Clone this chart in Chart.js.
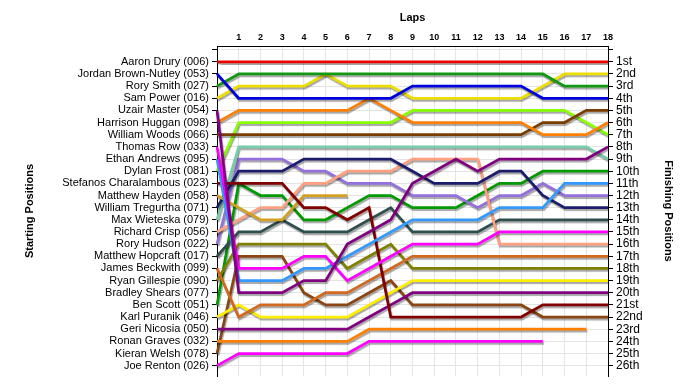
<!DOCTYPE html>
<html>
<head>
<meta charset="utf-8">
<script src="https://cdn.jsdelivr.net/npm/chart.js@4.4.1/dist/chart.umd.min.js"></script>
<style>
  body { margin: 0; background: #fff; }
</style>
</head>
<body>
<canvas id="chart" width="700" height="390"></canvas>
<script>
// lap 0 = grid position
const laps = ['0', '1', '2', '3', '4', '5', '6', '7', '8', '9', '10', '11', '12', '13', '14', '15', '16', '17', '18'];

const starters = [
  'Aaron Drury (006)', 'Jordan Brown-Nutley (053)', 'Rory Smith (027)', 'Sam Power (016)',
  'Uzair Master (054)', 'Harrison Huggan (098)', 'William Woods (066)', 'Thomas Row (033)',
  'Ethan Andrews (095)', 'Dylan Frost (081)', 'Stefanos Charalambous (023)', 'Matthew Hayden (058)',
  'William Tregurtha (071)', 'Max Wieteska (079)', 'Richard Crisp (056)', 'Rory Hudson (022)',
  'Matthew Hopcraft (017)', 'James Beckwith (099)', 'Ryan Gillespie (090)', 'Bradley Shears (077)',
  'Ben Scott (051)', 'Karl Puranik (046)', 'Geri Nicosia (050)', 'Ronan Graves (032)',
  'Kieran Welsh (078)', 'Joe Renton (026)'
];

const finishLabels = ['1st', '2nd', '3rd', '4th', '5th', '6th', '7th', '8th', '9th', '10th', '11th', '12th', '13th',
  '14th', '15th', '16th', '17th', '18th', '19th', '20th', '21st', '22nd', '23rd', '24th', '25th', '26th'];

const colors = [
  '#ee0000', '#0000dd', '#119911', '#eedd00', '#800080', '#ff8000', '#7a3d00', '#ff00ff',
  '#3399ff', '#88ff00', '#800000', '#d4a020', '#1c1c6c', '#77ccaa', '#ffa080', '#9370db',
  '#2f4f4f', '#d2691e', '#808000', '#999999', '#009900', '#ffee00', '#800080', '#ff8000',
  '#8b4513', '#ff00ff'
];

// positions per lap, one array per driver (grid order)
const drury        = [1, 1, 1, 1, 1, 1, 1, 1, 1, 1, 1, 1, 1, 1, 1, 1, 1, 1, 1];
const brownNutley  = [2, 4, 4, 4, 4, 4, 4, 4, 4, 3, 3, 3, 3, 3, 3, 4, 4, 4, 4];
const smith        = [3, 2, 2, 2, 2, 2, 2, 2, 2, 2, 2, 2, 2, 2, 2, 2, 3, 3, 3];
const power        = [4, 3, 3, 3, 3, 2, 3, 3, 3, 4, 4, 4, 4, 4, 4, 3, 2, 2, 2];
const master       = [5, 20, 20, 20, 19, 19, 16, 15, 14, 11, 10, 9, 10, 9, 9, 9, 9, 9, 8];
const huggan       = [6, 5, 5, 5, 5, 5, 5, 4, 5, 6, 6, 6, 6, 6, 6, 7, 7, 7, 6];
const woods        = [7, 7, 7, 7, 7, 7, 7, 7, 7, 7, 7, 7, 7, 7, 7, 6, 6, 5, 5];
const row          = [8, 18, 18, 18, 17, 17, 19, 18, 17, 16, 16, 16, 16, 15, 15, 15, 15, 15, 15];
const andrews      = [9, 19, 19, 19, 18, 18, 17, 16, 15, 14, 14, 14, 14, 13, 13, 13, 11, 11, 11];
const frost        = [10, 6, 6, 6, 6, 6, 6, 6, 6, 5, 5, 5, 5, 5, 5, 5, 5, 6, 7];
const charalambous = [11, 11, 11, 11, 13, 13, 14, 13, 22, 22, 22, 22, 22, 22, 22, 21, 21, 21, 21];
const hayden       = [12, 13, 14, 14, 12, 12, 12];
const tregurtha    = [13, 10, 10, 10, 9, 9, 9, 9, 9, 10, 11, 11, 11, 10, 10, 12, 13, 13, 13];
const wieteska     = [14, 8, 8, 8, 8, 8, 8, 8, 8, 8, 8, 8, 8, 8, 8, 8, 8, 8, 9];
const crisp        = [15, 14, 13, 13, 11, 11, 10, 10, 10, 9, 9, 9, 9, 16, 16, 16, 16, 16, 16];
const hudson       = [16, 9, 9, 9, 10, 10, 11, 11, 11, 12, 12, 12, 13, 12, 12, 11, 12, 12, 12];
const hopcraft     = [17, 15, 15, 14, 15, 15, 15, 14, 13, 15, 15, 15, 15, 14, 14, 14, 14, 14, 14];
const beckwith     = [18, 22, 21, 21, 21, 20, 20, 19, 18, 17, 17, 17, 17, 17, 17, 17, 17, 17, 17];
const gillespie    = [19, 16, 16, 16, 16, 16, 18, 17, 16, 18, 18, 18, 18, 18, 18, 18, 18, 18, 18];
const shears       = [];
const scott        = [21, 11, 12, 12, 14, 14, 13, 12, 12, 13, 13, 13, 12, 11, 11, 10, 10, 10, 10];
const puranik      = [22, 21, 22, 22, 22, 22, 22, 21, 20, 19, 19, 19, 19, 19, 19, 19, 19, 19, 19];
const nicosia      = [23, 23, 23, 23, 23, 23, 23, 22, 21, 20, 20, 20, 20, 20, 20, 20, 20, 20, 20];
const graves       = [24, 24, 24, 24, 24, 24, 24, 23, 23, 23, 23, 23, 23, 23, 23, 23, 23, 23];
const welsh        = [25, 17, 17, 17, 20, 21, 21, 20, 19, 21, 21, 21, 21, 21, 21, 22, 22, 22, 22];
const renton       = [26, 25, 25, 25, 25, 25, 25, 24, 24, 24, 24, 24, 24, 24, 24, 24];

const positions = [drury, brownNutley, smith, power, master, huggan, woods, row, andrews, frost,
  charalambous, hayden, tregurtha, wieteska, crisp, hudson, hopcraft, beckwith, gillespie, shears,
  scott, puranik, nicosia, graves, welsh, renton];

const datasets = starters.map((name, i) => ({
  label: name,
  data: positions[i],
  borderColor: colors[i],
  borderWidth: 2.75,
  pointRadius: 0,
  tension: 0,
  fill: false,
  yAxisID: 'y'
}));

// grey drop shadow under the lines
const lineShadow = {
  id: 'lineShadow',
  beforeDatasetsDraw(chart) {
    const ctx = chart.ctx;
    ctx.save();
    ctx.shadowColor = 'rgba(0,0,0,0.35)';
    ctx.shadowOffsetX = 1;
    ctx.shadowOffsetY = 2;
    ctx.shadowBlur = 1;
  },
  afterDatasetsDraw(chart) {
    chart.ctx.restore();
  }
};

const allTicks = (scale) => {
  scale.ticks = [0, 1, 2, 3, 4, 5, 6, 7, 8, 9, 10, 11, 12, 13, 14, 15, 16, 17, 18, 19, 20, 21, 22, 23, 24, 25, 26]
    .map(v => ({ value: v }));
};

const titleFont = { family: 'Liberation Sans', size: 11, weight: 'bold' };

new Chart(document.getElementById('chart'), {
  type: 'line',
  data: { labels: laps, datasets: datasets },
  plugins: [lineShadow],
  options: {
    responsive: false,
    animation: false,
    devicePixelRatio: 1,
    layout: { padding: { bottom: 14 } },
    plugins: { legend: { display: false }, tooltip: { enabled: false } },
    scales: {
      x: {
        position: 'top',
        offset: false,
        afterFit: (s) => { s.height = 46; },
        title: { display: true, text: 'Laps', color: '#000', font: titleFont, padding: { top: 11 } },
        grid: { color: '#e4e4e4', drawTicks: false },
        border: { color: '#000' },
        ticks: {
          color: '#000',
          font: { family: 'Liberation Sans', size: 9, weight: 'bold' },
          padding: 3,
          maxRotation: 0,
          autoSkip: false,
          callback: (v, i) => (i === 0 ? '' : laps[i])
        }
      },
      y: {
        position: 'left',
        reverse: true,
        min: -0.3,
        max: 26.85,
        afterBuildTicks: allTicks,
        afterFit: (s) => { s.width = 217; },
        title: { display: true, text: 'Starting Positions', color: '#000', font: titleFont, padding: { top: 23 } },
        grid: { color: '#e4e4e4', tickColor: '#000', tickLength: 5 },
        border: { color: '#000' },
        ticks: {
          color: '#000',
          font: { family: 'Liberation Sans', size: 11 },
          padding: 3,
          autoSkip: false,
          callback: (v) => starters[v - 1] || ''
        }
      },
      y2: {
        position: 'right',
        reverse: true,
        min: -0.3,
        max: 26.85,
        afterBuildTicks: allTicks,
        afterFit: (s) => { s.width = 92; },
        title: { display: true, text: 'Finishing Positions', color: '#000', font: titleFont, padding: { top: 25 } },
        grid: { drawOnChartArea: false, color: '#000', tickLength: 5 },
        border: { color: '#000' },
        ticks: {
          color: '#000',
          font: { family: 'Liberation Sans', size: 12 },
          padding: 3,
          autoSkip: false,
          callback: (v) => finishLabels[v - 1] || ''
        }
      }
    }
  }
});
</script>
</body>
</html>
